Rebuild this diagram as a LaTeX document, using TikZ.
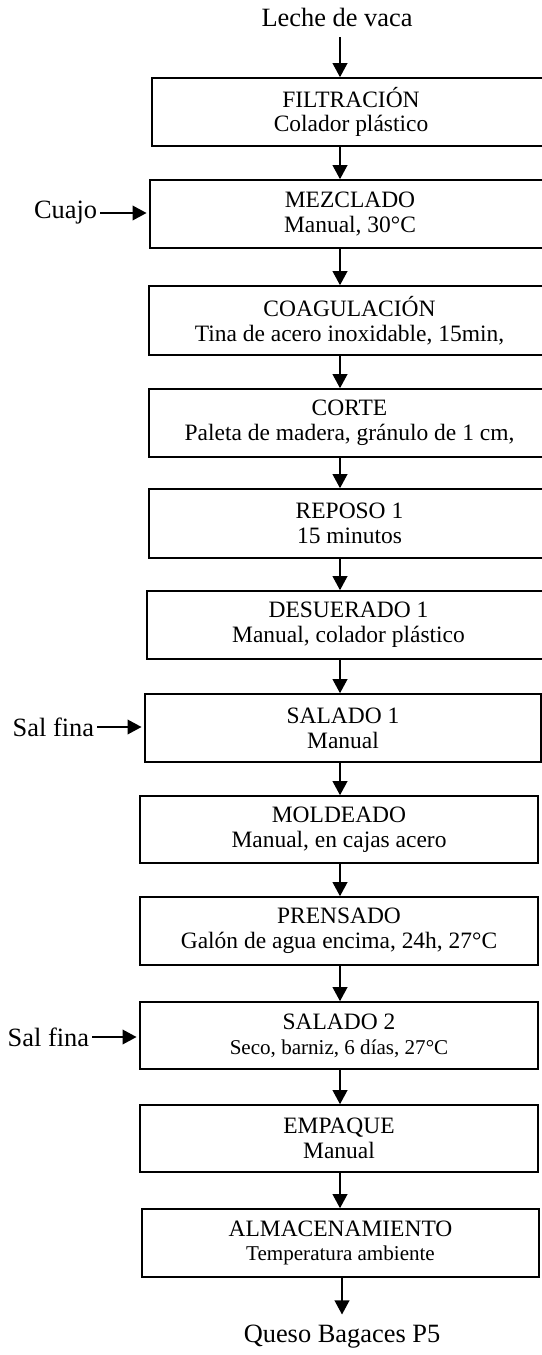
\documentclass[tikz,border=0pt]{standalone}
\usepackage{fontspec}
\setmainfont{Liberation Serif}
\usetikzlibrary{arrows.meta}

\begin{document}
\begin{tikzpicture}[x=0.75pt, y=-0.75pt,
  etapa/.style={draw, line width=1.2pt, inner sep=0pt, align=center, font=\fontsize{17.6}{18.6}\selectfont},
  flecha/.style={line width=1.2pt, -{Triangle[length=10.5pt, width=11pt]}},
  rotulo/.style={font=\fontsize{19.8}{22}\selectfont, inner sep=2pt}]
\useasboundingbox (0, 0) rectangle (542, 1355);
\clip (0, 0) rectangle (542, 1355);
\coordinate (col) at (340, 0);
\foreach \n/\l/\r/\t/\b/\txt in {
  filtracion/152/550/78/146/{FILTRACIÓN\\Colador plástico},
  mezclado/150/550/180/248/{MEZCLADO\\Manual, 30°C},
  coagulacion/149/550/286/355/{COAGULACIÓN\\Tina de acero inoxidable, 15min,},
  corte/149/550/389/457/{CORTE\\Paleta de madera, gránulo de 1 cm,},
  reposo/149/550/489/558/{REPOSO 1\\15 minutos},
  desuerado/147/550/591/659/{DESUERADO 1\\Manual, colador plástico},
  salado/145/541/694/762/{SALADO 1\\Manual},
  moldeado/140/538/796/863/{MOLDEADO\\Manual, en cajas acero},
  prensado/140/538/897/965/{PRENSADO\\Galón de agua encima, 24h, 27°C},
  saladodos/140/538/1002/1069/{SALADO 2\\{\fontsize{15.8}{18.6}\selectfont Seco, barniz, 6 días, 27°C}},
  empaque/140/538/1105/1172/{EMPAQUE\\Manual},
  almacenamiento/142/539/1209/1277/{ALMACENAMIENTO\\{\fontsize{15.8}{18.6}\selectfont Temperatura ambiente}}}
  \node [etapa, minimum width={(\r-\l)*0.75pt}, minimum height={(\b-\t)*0.75pt}] (\n) at ({(\l+\r)/2}, {(\t+\b)/2}) {\txt};
\foreach \a/\b in {filtracion/mezclado, mezclado/coagulacion, coagulacion/corte, corte/reposo, reposo/desuerado, desuerado/salado, salado/moldeado, moldeado/prensado, prensado/saladodos, saladodos/empaque, empaque/almacenamiento}
  \draw [flecha] (\a.south -| col) -- (\b.north -| col);
% entradas y salida
\node [rotulo] (leche) at (337, 17) {Leche de vaca};
\draw [flecha, shorten <=6pt] (leche.south -| col) -- (filtracion.north -| col);
\node [rotulo] (queso) at (342, 1337) {Queso Bagaces P5};
\draw [flecha, shorten >=6pt] (almacenamiento.south -| queso) -- (queso.north);
\node [rotulo, anchor=east] (cuajo) at (100, 213) {Cuajo};
\draw [flecha, shorten >=2pt] (cuajo.east) -- (cuajo.east -| mezclado.west);
\node [rotulo, anchor=east] (saluno) at (97, 727) {Sal fina};
\draw [flecha, shorten >=2pt] (saluno.east) -- (saluno.east -| salado.west);
\node [rotulo, anchor=east] (saldos) at (92, 1037) {Sal fina};
\draw [flecha, shorten >=2pt] (saldos.east) -- (saldos.east -| saladodos.west);
\end{tikzpicture}
\end{document}
